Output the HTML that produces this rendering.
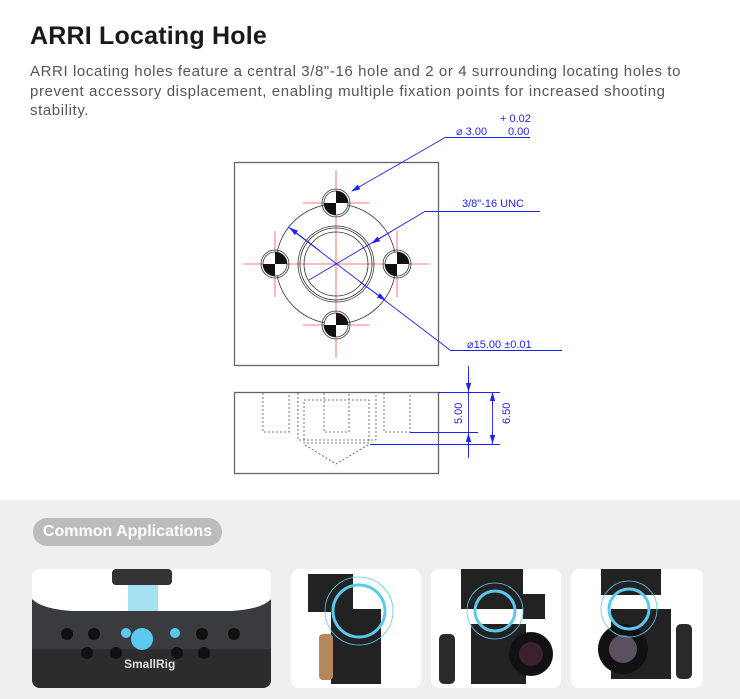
<!DOCTYPE html>
<html><head><meta charset="utf-8"><style>
body{margin:0;width:740px;height:699px;background:#fff;position:relative;overflow:hidden;font-family:"Liberation Sans",sans-serif}
h1{position:absolute;left:30px;top:22px;margin:0;font-size:25px;font-weight:bold;color:#1a1a1a;letter-spacing:0.2px}
p{position:absolute;left:30px;top:62px;margin:0;font-size:15px;line-height:19.5px;color:#555;white-space:nowrap;letter-spacing:0.6px}
.bot{position:absolute;left:0;top:500px;width:740px;height:199px;background:#efefef}
.pill{position:absolute;left:33px;top:518px;width:189px;height:28px;border-radius:14px;background:#bcbcbc;color:#fff;font-size:16px;font-weight:bold;text-align:center;line-height:28px}
.card{position:absolute;top:569px;height:119px;background:#fff;border-radius:8px;overflow:hidden}
</style></head><body>
<h1>ARRI Locating Hole</h1>
<p>ARRI locating holes feature a central 3/8"-16 hole and 2 or 4 surrounding locating holes to<br>prevent accessory displacement, enabling multiple fixation points for increased shooting<br>stability.</p>
<svg width="740" height="500" style="position:absolute;left:0;top:0" font-family="Liberation Sans,sans-serif">
<defs><marker id="a" markerWidth="10" markerHeight="6" refX="9" refY="3" orient="auto"><path d="M0,0L10,3L0,6z" fill="#2020ff"/></marker>
<g id="h">
<circle r="14" fill="none" stroke="#333" stroke-width="0.8"/><circle r="12" fill="#fff" stroke="#333" stroke-width="0.8"/>
<path d="M0,0L12,0A12,12 0 0 0 0,-12z M0,0L-12,0A12,12 0 0 0 0,12z" fill="#111"/>
</g></defs>
<rect x="234.5" y="162.5" width="204" height="203" fill="none" stroke="#666" stroke-width="1.3"/>
<g stroke="#f05050" stroke-width="0.8">
<line x1="336" y1="170" x2="336" y2="358"/><line x1="243" y1="264" x2="429" y2="264"/>
<line x1="303" y1="203" x2="369" y2="203"/><line x1="303" y1="325" x2="369" y2="325"/>
<line x1="275" y1="231" x2="275" y2="297"/><line x1="397" y1="231" x2="397" y2="297"/>
</g>
<g fill="none" stroke="#333" stroke-width="0.8">
<circle cx="336" cy="264" r="60"/><circle cx="336" cy="264" r="38"/><circle cx="336" cy="264" r="36"/><circle cx="336" cy="264" r="32"/>
</g>
<use href="#h" x="336" y="203"/><use href="#h" x="336" y="325"/><use href="#h" x="275" y="264"/><use href="#h" x="397" y="264"/>
<g stroke="#2020ff" stroke-width="0.9" fill="none">
<line x1="446" y1="137.5" x2="530" y2="137.5"/><line x1="446" y1="137" x2="352" y2="191" marker-end="url(#a)"/>
<line x1="424" y1="211.5" x2="540" y2="211.5"/><line x1="424" y1="212" x2="309" y2="280"/><line x1="392" y1="231" x2="372" y2="243" marker-end="url(#a)"/>
<line x1="450" y1="350.5" x2="562" y2="350.5"/><line x1="450" y1="350" x2="288" y2="227"/><line x1="320" y1="251" x2="290" y2="228" marker-end="url(#a)"/><line x1="360" y1="282" x2="385" y2="300" marker-end="url(#a)"/>
</g>
<g fill="#2020ff" font-size="11">
<text x="500" y="122">+ 0.02</text><text x="456" y="135">⌀ 3.00</text><text x="508" y="135">0.00</text>
<text x="462" y="207">3/8"-16 UNC</text>
<text x="467" y="348">⌀15.00 ±0.01</text>
</g>
<rect x="234.5" y="392.5" width="204" height="81" fill="none" stroke="#666" stroke-width="1.3"/>
<g fill="none" stroke="#555" stroke-width="0.8" stroke-dasharray="2,2">
<path d="M263,393V432H289V393"/><path d="M384,393V432H410V393"/><path d="M324,393V432H349V393"/>
<path d="M298,393V440H376V393"/><path d="M304,400H369V443H304z"/><path d="M305,445L336,464L368,445"/>
</g>
<g stroke="#2020ff" stroke-width="0.9" fill="none">
<line x1="438" y1="392.5" x2="500" y2="392.5"/><line x1="410" y1="432.5" x2="478" y2="432.5"/><line x1="370" y1="444.5" x2="500" y2="444.5"/>
<line x1="468.5" y1="366" x2="468.5" y2="458"/><line x1="492.5" y1="392" x2="492.5" y2="444"/>
<line x1="468.5" y1="372" x2="468.5" y2="391" marker-end="url(#a)"/><line x1="468.5" y1="456" x2="468.5" y2="434" marker-end="url(#a)"/>
<line x1="492.5" y1="405" x2="492.5" y2="393" marker-end="url(#a)"/><line x1="492.5" y1="432" x2="492.5" y2="443" marker-end="url(#a)"/>
</g>
<g fill="#2020ff" font-size="11"><text transform="translate(462,424) rotate(-90)">5.00</text><text transform="translate(510,424) rotate(-90)">6.50</text></g>
</svg>
<div class="bot"></div>
<div class="pill">Common Applications</div>
<div class="card" style="left:32px;width:239px">
<svg width="239" height="119"><rect x="80" y="0" width="60" height="16" rx="4" fill="#333"/><rect x="96" y="16" width="30" height="55" fill="#8fd8f0" opacity="0.8"/>
<path d="M0,30Q10,40 40,42H200Q230,40 239,30V119H0z" fill="#3a3b3e"/><path d="M0,80H239V119H0z" fill="#2b2c2e"/>
<circle cx="110" cy="70" r="11" fill="#5bc8ef"/><circle cx="94" cy="64" r="5" fill="#5bc8ef"/><circle cx="143" cy="64" r="5" fill="#5bc8ef"/>
<g fill="#111"><circle cx="35" cy="65" r="6"/><circle cx="62" cy="65" r="6"/><circle cx="170" cy="65" r="6"/><circle cx="202" cy="65" r="6"/><circle cx="55" cy="84" r="6"/><circle cx="84" cy="84" r="6"/><circle cx="145" cy="84" r="6"/><circle cx="172" cy="84" r="6"/></g>
<text x="92" y="99" fill="#ddd" font-size="12" font-weight="bold">SmallRig</text></svg></div>
<div class="card" style="left:291px;width:130px">
<svg width="130" height="119"><rect x="17" y="5" width="45" height="38" fill="#222"/><rect x="40" y="40" width="50" height="75" fill="#222"/><rect x="28" y="65" width="14" height="46" rx="4" fill="#b5875c"/>
<circle cx="68" cy="42" r="26" fill="none" stroke="#5bc8ef" stroke-width="3"/><circle cx="68" cy="42" r="34" fill="none" stroke="#5bc8ef" stroke-width="0.8"/></svg></div>
<div class="card" style="left:431px;width:130px">
<svg width="130" height="119"><rect x="30" y="0" width="62" height="40" fill="#222"/><rect x="40" y="55" width="55" height="60" fill="#222"/><rect x="8" y="65" width="16" height="50" rx="5" fill="#2a2a2a"/><rect x="92" y="25" width="22" height="25" fill="#222"/>
<circle cx="100" cy="85" r="22" fill="#111"/><circle cx="100" cy="85" r="12" fill="#3a2030"/>
<circle cx="64" cy="42" r="20" fill="none" stroke="#5bc8ef" stroke-width="3"/><circle cx="64" cy="42" r="28" fill="none" stroke="#5bc8ef" stroke-width="0.8"/></svg></div>
<div class="card" style="left:571px;width:132px">
<svg width="132" height="119"><rect x="30" y="0" width="60" height="26" fill="#222"/><rect x="40" y="40" width="60" height="70" fill="#222"/><rect x="105" y="55" width="16" height="55" rx="5" fill="#2a2a2a"/>
<circle cx="52" cy="80" r="25" fill="#111"/><circle cx="52" cy="80" r="14" fill="#5a5060"/>
<circle cx="58" cy="40" r="20" fill="none" stroke="#5bc8ef" stroke-width="3"/><circle cx="58" cy="40" r="28" fill="none" stroke="#5bc8ef" stroke-width="0.8"/></svg></div>
</body></html>
